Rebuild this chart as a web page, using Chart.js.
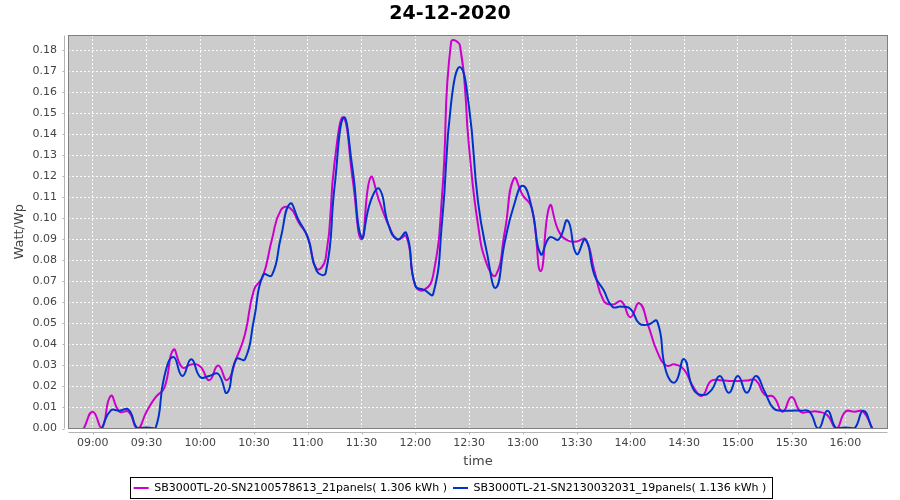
<!DOCTYPE html>
<html><head><meta charset="utf-8">
<script src="https://cdn.jsdelivr.net/npm/chart.js@4.4.1/dist/chart.umd.min.js"></script>
<style>html,body{margin:0;padding:0;background:#fff;}canvas{display:block;}</style>
</head><body>
<canvas id="c" width="900" height="500"></canvas>
<script>
const chartTitle = '24-12-2020';
const xAxisTitle = 'time';
const yAxisTitle = 'Watt/Wp';
const seriesNames = [
  'SB3000TL-20-SN2100578613_21panels( 1.306 kWh )',
  'SB3000TL-21-SN2130032031_19panels( 1.136 kWh )'
];
const times = [
  '08:55','09:00','09:05','09:10','09:15','09:20','09:25','09:30','09:35','09:40','09:45','09:50','09:55',
  '10:00','10:05','10:10','10:15','10:20','10:25','10:30','10:35','10:40','10:45','10:50','10:55',
  '11:00','11:05','11:10','11:15','11:20','11:25','11:30','11:35','11:40','11:45','11:50','11:55',
  '12:00','12:05','12:10','12:15','12:20','12:25','12:30','12:35','12:40','12:45','12:50','12:55',
  '13:00','13:05','13:10','13:15','13:20','13:25','13:30','13:35','13:40','13:45','13:50','13:55',
  '14:00','14:05','14:10','14:15','14:20','14:25','14:30','14:35','14:40','14:45','14:50','14:55',
  '15:00','15:05','15:10','15:15','15:20','15:25','15:30','15:35','15:40','15:45','15:50','15:55',
  '16:00','16:05','16:10','16:15'
];
const sb20 = [
  0, 0.008, 0, 0.0155, 0.008, 0.008, 0, 0.008, 0.0148, 0.0195, 0.0375, 0.029, 0.0305,
  0.0295, 0.023, 0.030, 0.023, 0.033, 0.045, 0.066, 0.0725, 0.090, 0.104, 0.105, 0.098,
  0.091, 0.076, 0.081, 0.127, 0.148, 0.119, 0.090, 0.1195, 0.108, 0.097, 0.090, 0.0915,
  0.068, 0.066, 0.073, 0.1116, 0.184, 0.182, 0.134, 0.097, 0.078, 0.073, 0.094, 0.119,
  0.111, 0.105, 0.075, 0.106, 0.094, 0.0895, 0.089, 0.090, 0.075, 0.061, 0.059, 0.0605,
  0.053, 0.0597, 0.049, 0.0366, 0.030, 0.0305, 0.028, 0.020, 0.0156, 0.0226, 0.023, 0.0226,
  0.0226, 0.0228, 0.023, 0.016, 0.015, 0.008, 0.015, 0.008, 0.008, 0.008, 0.0063, 0,
  0.008, 0.008, 0.008, 0
];
const sb21 = [
  null, null, 0, 0.0085, 0.0085, 0.009, 0, 0.0005, 0, 0.025, 0.034, 0.025, 0.033,
  0.0245, 0.025, 0.026, 0.017, 0.033, 0.033, 0.052, 0.073, 0.073, 0.091, 0.107, 0.099,
  0.091, 0.075, 0.074, 0.1155, 0.148, 0.1235, 0.091, 0.108, 0.114, 0.097, 0.090, 0.093,
  0.068, 0.066, 0.064, 0.099, 0.155, 0.172, 0.153, 0.108, 0.0836, 0.067, 0.089, 0.106,
  0.1155, 0.105, 0.083, 0.091, 0.090, 0.099, 0.083, 0.090, 0.073, 0.066, 0.058, 0.058,
  0.057, 0.050, 0.0495, 0.051, 0.027, 0.022, 0.033, 0.019, 0.016, 0.018, 0.025, 0.017,
  0.025, 0.017, 0.025, 0.0175, 0.0095, 0.0085, 0.0085, 0.0085, 0.008, 0, 0.0085, 0,
  0.0005, 0, 0.0085, 0
];
const xTickLabels = ['09:00','09:30','10:00','10:30','11:00','11:30','12:00','12:30','13:00','13:30','14:00','14:30','15:00','15:30','16:00'];
const yTickLabels = ['0.00','0.01','0.02','0.03','0.04','0.05','0.06','0.07','0.08','0.09','0.10','0.11','0.12','0.13','0.14','0.15','0.16','0.17','0.18'];

const MAGENTA = 'rgb(204,0,204)';
const BLUE = 'rgb(0,51,204)';
const FONT = 'DejaVu Sans';

const toMin = s => { const p = s.split(':'); return (+p[0]) * 60 + (+p[1]); };
const xMin = toMin(times[0]) - 8.8;
const xMax = toMin(times[times.length - 1]) + 8.8;

const framePlugin = {
  id: 'frame',
  beforeDraw(chart) {
    const {ctx, chartArea: a} = chart;
    ctx.save();
    ctx.fillStyle = '#ffffff';
    ctx.fillRect(0, 0, chart.width, chart.height);
    ctx.fillStyle = '#cccccc';
    ctx.fillRect(a.left, a.top, a.right - a.left, a.bottom - a.top);
    ctx.restore();
  },
  afterDraw(chart) {
    const {ctx, chartArea: a, scales} = chart;
    const line = (x1, y1, x2, y2) => { ctx.beginPath(); ctx.moveTo(x1, y1); ctx.lineTo(x2, y2); ctx.stroke(); };
    ctx.save();
    ctx.lineWidth = 1;
    ctx.strokeStyle = '#808080';
    const L = Math.round(a.left) + 0.5, T = Math.round(a.top) + 0.5;
    const R = Math.round(a.right) - 0.5, B = Math.round(a.bottom) - 0.5;
    ctx.strokeRect(L, T, R - L, B - T);
    ctx.strokeStyle = '#b4b4b4';
    const ax = L - 4;
    const ay = B + 4;
    line(ax, T, ax, B);
    line(L, ay, R, ay);
    scales.y.ticks.forEach(t => {
      const y = Math.round(scales.y.getPixelForValue(t.value)) + 0.5;
      line(ax - 2, y, ax, y);
    });
    scales.x.ticks.forEach(t => {
      const x = Math.round(scales.x.getPixelForValue(t.value)) + 0.5;
      line(x, ay, x, ay + 2);
    });
    const hb = chart.legend && chart.legend.legendHitBoxes;
    if (hb && hb.length) {
      let l = Infinity, r = -Infinity, cy = 0;
      hb.forEach(h => { l = Math.min(l, h.left); r = Math.max(r, h.left + h.width); cy = h.top + h.height / 2; });
      ctx.strokeStyle = '#000000';
      ctx.strokeRect(Math.round(l - 4) + 0.5, Math.round(cy - 11) + 0.5, Math.round(r - l + 9), 21);
    }
    ctx.restore();
  }
};

const mk = (vals) => times.map((t, i) => ({x: toMin(t), y: vals[i]}));

new Chart(document.getElementById('c'), {
  type: 'line',
  data: {
    datasets: [
      {label: seriesNames[0], data: mk(sb20), borderColor: MAGENTA, backgroundColor: MAGENTA,
       borderWidth: 2, pointRadius: 0, tension: 0.5, fill: false, order: 2, yAxisID: 'y'},
      {label: seriesNames[1], data: mk(sb21), borderColor: BLUE, backgroundColor: BLUE,
       borderWidth: 2, pointRadius: 0, tension: 0.5, fill: false, order: 1, yAxisID: 'y'}
    ]
  },
  options: {
    responsive: false,
    animation: false,
    devicePixelRatio: 1,
    events: [],
    layout: {padding: {left: 0, right: 0, top: 0, bottom: -3.5}},
    plugins: {
      title: {display: true, text: chartTitle, color: '#000',
        font: {family: FONT, size: 19, weight: 'bold'}, padding: {top: 3, bottom: 9.2}},
      legend: {position: 'bottom',
        labels: {usePointStyle: true, pointStyle: 'line', pointStyleWidth: 15,
          font: {family: FONT, size: 11}, color: '#000', padding: 6,
          sort: (a, b) => a.datasetIndex - b.datasetIndex}},
      tooltip: {enabled: false}
    },
    scales: {
      x: {
        type: 'linear', min: xMin, max: xMax,
        afterBuildTicks: s => { s.ticks = xTickLabels.map(t => ({value: toMin(t)})); },
        ticks: {callback: (v, i) => xTickLabels[i], color: '#444', font: {family: FONT, size: 11},
          padding: 8, maxRotation: 0, autoSkip: false},
        grid: {color: 'rgba(255,255,255,0.9)', lineWidth: 1, drawTicks: false},
        border: {display: false, dash: [2, 2]},
        title: {display: true, text: xAxisTitle, color: '#444', font: {family: FONT, size: 13},
          padding: {top: 0, bottom: 6.7}},
        afterFit: s => { s.height = 48; }
      },
      y: {
        position: 'left',
        min: 0, max: 0.1873,
        afterBuildTicks: s => { s.ticks = yTickLabels.map(t => ({value: parseFloat(t)})); },
        ticks: {callback: (v, i) => yTickLabels[i], color: '#444', font: {family: FONT, size: 11},
          padding: 11, autoSkip: false},
        grid: {color: 'rgba(255,255,255,0.9)', lineWidth: 1, drawTicks: false},
        border: {display: false, dash: [2, 2]},
        title: {display: true, text: yAxisTitle, color: '#444', font: {family: FONT, size: 13},
          padding: {top: 12, bottom: 0}},
        afterFit: s => { s.width = 68; }
      },
      yRight: {
        position: 'right',
        min: 0, max: 0.1873,
        ticks: {display: false},
        grid: {display: false, drawTicks: false},
        border: {display: false},
        afterFit: s => { s.width = 12; }
      }
    }
  },
  plugins: [framePlugin]
});
</script>
</body></html>
